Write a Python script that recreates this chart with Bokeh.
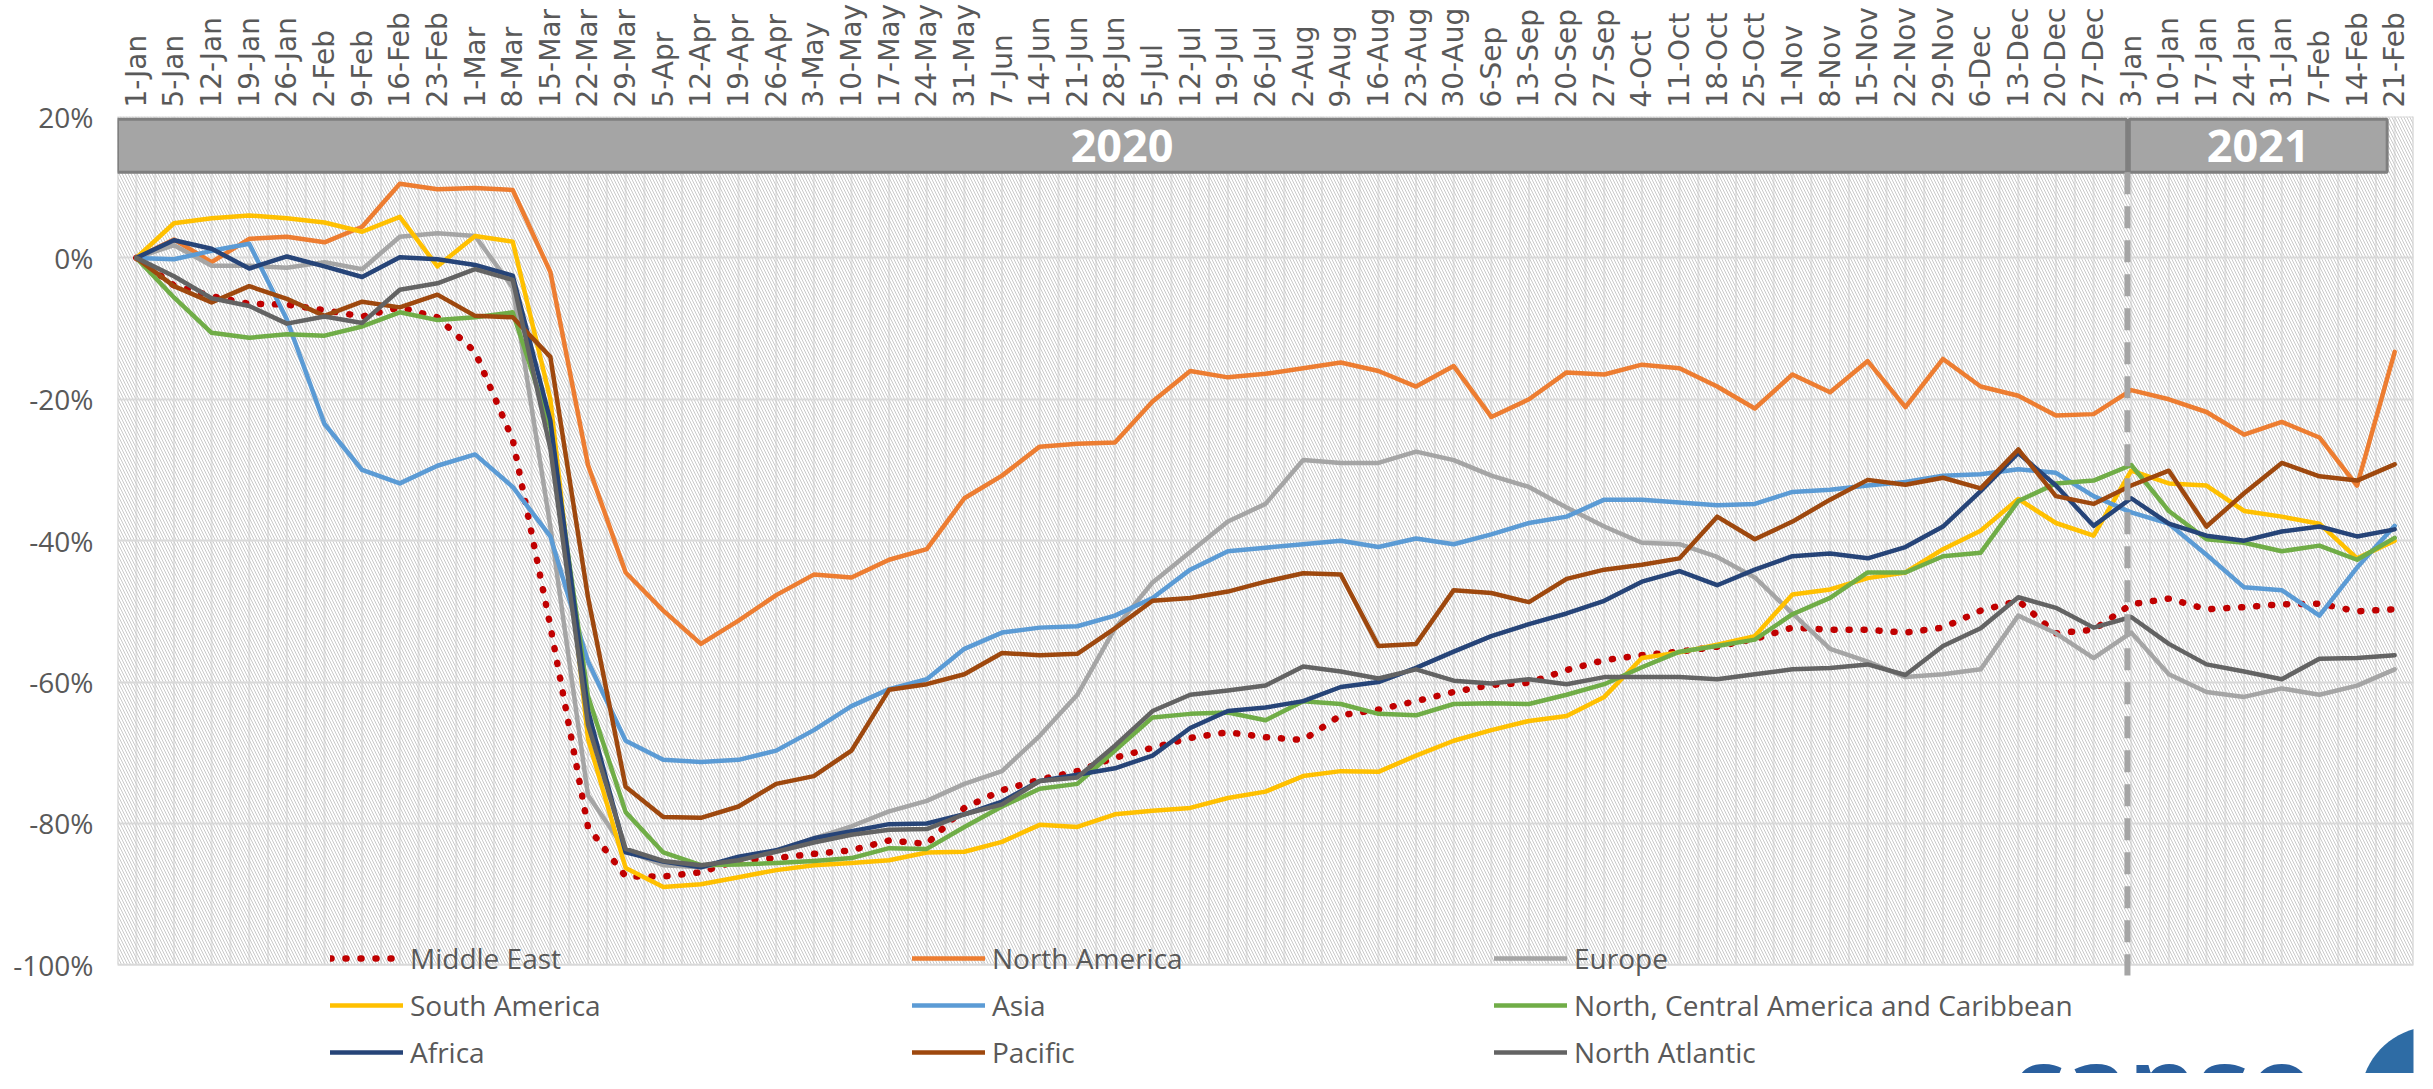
import numpy as np
from bokeh.plotting import figure
from bokeh.models import Range1d, FixedTicker, Legend, LegendItem, Label, Arrow, PolyAnnotation
from bokeh.core.properties import value
from bokeh.embed import file_html
from bokeh.resources import INLINE

# ---------------- data ----------------
dates = ["1-Jan", "5-Jan", "12-Jan", "19-Jan", "26-Jan", "2-Feb", "9-Feb", "16-Feb", "23-Feb",
         "1-Mar", "8-Mar", "15-Mar", "22-Mar", "29-Mar", "5-Apr", "12-Apr", "19-Apr", "26-Apr",
         "3-May", "10-May", "17-May", "24-May", "31-May", "7-Jun", "14-Jun", "21-Jun", "28-Jun",
         "5-Jul", "12-Jul", "19-Jul", "26-Jul", "2-Aug", "9-Aug", "16-Aug", "23-Aug", "30-Aug",
         "6-Sep", "13-Sep", "20-Sep", "27-Sep", "4-Oct", "11-Oct", "18-Oct", "25-Oct", "1-Nov",
         "8-Nov", "15-Nov", "22-Nov", "29-Nov", "6-Dec", "13-Dec", "20-Dec", "27-Dec", "3-Jan",
         "10-Jan", "17-Jan", "24-Jan", "31-Jan", "7-Feb", "14-Feb", "21-Feb"]

middle_east = [0, -3.9, -5.4, -6.5, -6.6, -7.4, -8.3, -7.0, -8.4, -13.3, -25.7, -52.1, -80.5, -87.5,
               -87.5, -86.9, -85.2, -84.9, -84.3, -83.8, -82.4, -82.9, -77.8, -75.3, -73.8, -72.6,
               -70.7, -69.3, -67.9, -67.1, -67.8, -68.2, -64.7, -63.9, -62.7, -61.4, -60.4, -60.1,
               -58.3, -56.9, -56.2, -55.7, -55.0, -53.9, -52.3, -52.6, -52.6, -53.0, -52.3, -49.9,
               -48.5, -53.1, -52.6, -49.0, -48.2, -49.7, -49.4, -49.0, -48.9, -50.0, -49.7]
north_america = [0, 2.6, -0.6, 2.7, 3.0, 2.2, 4.4, 10.5, 9.7, 9.9, 9.6, -2.0, -29.3, -44.5, -49.9,
                 -54.6, -51.3, -47.7, -44.8, -45.2, -42.7, -41.2, -34.0, -30.8, -26.7, -26.3, -26.1,
                 -20.3, -16.0, -16.9, -16.4, -15.6, -14.8, -16.0, -18.2, -15.3, -22.5, -20.0, -16.2,
                 -16.5, -15.1, -15.6, -18.2, -21.3, -16.5, -19.0, -14.6, -21.1, -14.3, -18.2, -19.5,
                 -22.3, -22.1, -18.7, -20.0, -21.8, -25.0, -23.2, -25.4, -32.2, -13.3]
europe = [0, 1.8, -1.1, -1.1, -1.4, -0.6, -1.6, 3.0, 3.5, 3.1, -4.2, -38.0, -76.0, -83.8, -85.9,
          -86.2, -85.2, -83.8, -82.1, -80.4, -78.3, -76.8, -74.4, -72.6, -67.6, -61.8, -52.4, -45.9,
          -41.6, -37.3, -34.8, -28.6, -29.0, -29.0, -27.4, -28.6, -30.8, -32.4, -35.3, -38.0, -40.3,
          -40.5, -42.3, -45.2, -50.3, -55.3, -57.1, -59.3, -58.9, -58.2, -50.6, -53.1, -56.6, -53.0,
          -58.9, -61.4, -62.1, -60.9, -61.8, -60.5, -58.2]
south_america = [0, 4.9, 5.6, 6.0, 5.6, 5.0, 3.7, 5.8, -1.2, 3.1, 2.3, -20.0, -68.0, -86.3, -89.0,
                 -88.6, -87.6, -86.6, -85.9, -85.6, -85.2, -84.1, -84.0, -82.6, -80.2, -80.5, -78.7,
                 -78.2, -77.8, -76.4, -75.5, -73.3, -72.6, -72.7, -70.4, -68.3, -66.8, -65.5, -64.8,
                 -62.1, -56.6, -55.8, -54.7, -53.5, -47.6, -46.9, -45.3, -44.5, -41.2, -38.6, -34.1,
                 -37.5, -39.3, -30.1, -31.9, -32.2, -35.8, -36.6, -37.6, -42.5, -40.0]
asia = [0, -0.2, 1.0, 2.0, -8.7, -23.5, -30.0, -31.9, -29.4, -27.8, -32.4, -39.4, -57.1, -68.3,
        -71.0, -71.3, -71.0, -69.7, -66.8, -63.4, -61.0, -59.6, -55.3, -53.0, -52.3, -52.1, -50.6,
        -48.1, -44.1, -41.5, -41.0, -40.5, -40.0, -40.9, -39.7, -40.5, -39.1, -37.5, -36.6, -34.2,
        -34.2, -34.6, -35.0, -34.8, -33.1, -32.8, -32.2, -31.7, -30.8, -30.6, -29.9, -30.4, -33.7,
        -36.0, -37.6, -42.0, -46.6, -47.0, -50.6, -43.8, -37.9]
n_central_caribbean = [0, -5.6, -10.6, -11.3, -10.8, -11.0, -9.7, -7.7, -8.8, -8.4, -7.7, -24.0,
                       -62.0, -78.4, -84.1, -85.9, -85.8, -85.6, -85.3, -84.9, -83.5, -83.6, -80.5,
                       -77.6, -75.1, -74.4, -69.7, -65.0, -64.5, -64.3, -65.4, -62.7, -63.1, -64.5,
                       -64.7, -63.1, -63.0, -63.1, -61.8, -60.3, -57.9, -55.7, -54.9, -54.0, -50.4,
                       -48.1, -44.5, -44.5, -42.2, -41.7, -34.4, -31.9, -31.5, -29.3, -35.8, -39.8,
                       -40.3, -41.5, -40.7, -42.7, -39.6]
africa = [0, 2.5, 1.3, -1.5, 0.2, -1.2, -2.7, 0.1, -0.2, -1.0, -2.5, -23.0, -64.0, -84.1, -85.4,
          -86.2, -84.7, -83.8, -82.1, -81.1, -80.1, -80.0, -78.7, -76.9, -74.0, -73.1, -72.2, -70.4,
          -66.5, -64.1, -63.6, -62.7, -60.7, -60.0, -58.0, -55.7, -53.5, -51.8, -50.3, -48.5, -45.8,
          -44.3, -46.3, -44.1, -42.2, -41.8, -42.5, -40.9, -38.0, -33.0, -27.6, -32.2, -37.9, -34.0,
          -37.6, -39.3, -40.0, -38.7, -38.0, -39.4, -38.4]
pacific = [0, -4.0, -6.3, -4.0, -5.8, -8.2, -6.2, -7.0, -5.2, -8.2, -8.4, -14.0, -48.0, -74.8, -79.1,
           -79.2, -77.6, -74.4, -73.3, -69.7, -61.1, -60.3, -58.9, -55.9, -56.2, -56.0, -52.4, -48.5,
           -48.1, -47.2, -45.8, -44.6, -44.8, -54.9, -54.6, -47.0, -47.4, -48.7, -45.4, -44.1, -43.4,
           -42.5, -36.6, -39.8, -37.3, -34.2, -31.4, -32.1, -31.1, -32.6, -27.1, -33.7, -34.8, -32.2,
           -30.1, -38.0, -33.3, -29.0, -30.9, -31.5, -29.2]
north_atlantic = [0, -2.6, -5.7, -6.8, -9.3, -8.3, -9.2, -4.5, -3.6, -1.6, -3.1, -27.0, -66.0, -83.6,
                  -85.3, -85.9, -85.2, -84.0, -82.7, -81.6, -80.9, -80.8, -78.7, -77.3, -74.0, -73.5,
                  -69.0, -64.1, -61.8, -61.2, -60.5, -57.8, -58.5, -59.5, -58.2, -59.8, -60.2, -59.6,
                  -60.3, -59.3, -59.3, -59.3, -59.6, -58.9, -58.2, -58.0, -57.5, -59.0, -54.9, -52.4,
                  -48.0, -49.5, -52.3, -50.8, -54.6, -57.5, -58.5, -59.6, -56.7, -56.6, -56.2]

series_names = ["Middle East", "North America", "Europe",
                "South America", "Asia", "North, Central America and Caribbean",
                "Africa", "Pacific", "North Atlantic"]
series_values = [middle_east, north_america, europe,
                 south_america, asia, n_central_caribbean,
                 africa, pacific, north_atlantic]
series_colors = ["#C00000", "#ED7D31", "#A5A5A5",
                 "#FFC000", "#5B9BD5", "#70AD47",
                 "#264478", "#9E480E", "#636363"]

y_ticks = [-100, -80, -60, -40, -20, 0, 20]
y_min, y_max = -100, 20
x_min, x_max = -0.5, 60.5
year_labels = ["2020", "2021"]
year_starts = [-0.5, 52.95]     # category positions of year bands
year_ends = [52.88, 59.8]
divider_x = 52.9

# ---------------- figure ----------------
W, H = 2417, 1073
TOP = 113
px_per_unit = 851 / (y_max - y_min)           # plot area 851 px tall for -100..20
y_bottom = y_max - (H - TOP) / px_per_unit   # extend frame to bottom of canvas (legend/logo live there)

p = figure(width=W, height=H, output_backend="svg", toolbar_location=None,
           x_range=Range1d(x_min, x_max), y_range=Range1d(y_bottom, y_max),
           x_axis_location="above",
           min_border_left=117, min_border_right=4, min_border_top=TOP, min_border_bottom=0)
p.background_fill_color = "white"
p.border_fill_color = "white"
p.outline_line_color = None

# faint vertical stripes + hatched plot-area background
stripes = list(np.arange(x_min, x_max + 0.01, 0.5))
p.segment(x0=stripes, y0=y_min, x1=stripes, y1=y_max, line_color="#e6e6e6", line_width=2, level="underlay")
p.quad(left=[x_min], right=[x_max], bottom=[y_min], top=[y_max],
       fill_alpha=0, line_color=None, hatch_pattern="\\", hatch_color="#c9c9c9",
       hatch_scale=6, hatch_weight=1, level="underlay")

# grids
p.ygrid.ticker = FixedTicker(ticks=[-80, -60, -40, -20, 0])
p.ygrid.grid_line_color = "#d9d9d9"
p.ygrid.grid_line_width = 2
p.xgrid.visible = False

# plot-area border
p.quad(left=[x_min], right=[x_max], bottom=[y_min], top=[y_max],
       fill_alpha=0, line_color="#d9d9d9", line_width=2)

# y axis
p.yaxis.ticker = FixedTicker(ticks=y_ticks)
p.yaxis.major_label_overrides = {t: f"{t}%" for t in y_ticks}
p.yaxis.axis_line_color = None
p.yaxis.major_tick_line_color = None
p.yaxis.minor_tick_line_color = None
p.yaxis.major_tick_out = 0
p.yaxis.major_label_standoff = 24
p.yaxis.major_label_text_font = "Open Sans"
p.yaxis.major_label_text_font_size = "28px"
p.yaxis.major_label_text_color = "#595959"

# x axis (top)
p.xaxis.ticker = FixedTicker(ticks=list(range(len(dates))))
p.xaxis.major_label_overrides = {i: d for i, d in enumerate(dates)}
p.xaxis.major_label_orientation = "vertical"
p.xaxis.axis_line_color = None
p.xaxis.major_tick_line_color = None
p.xaxis.minor_tick_line_color = None
p.xaxis.major_tick_out = 0
p.xaxis.major_label_standoff = 9
p.xaxis.major_label_text_font = "DejaVu Sans"
p.xaxis.major_label_text_font_size = "28px"
p.xaxis.major_label_text_color = "#595959"

# year bands
p.quad(left=year_starts, right=year_ends, bottom=12.1, top=19.6,
       fill_color="#a5a5a5", line_color="#7f7f7f", line_width=3)
p.text(x=[(a + b) / 2 for a, b in zip(year_starts, year_ends)], y=[15.85, 15.85], text=year_labels,
       text_font=value("Open Sans"), text_font_style="bold", text_font_size="45px",
       text_color="white", text_align="center", text_baseline="middle")

# dashed year divider
p.add_layout(Arrow(end=None, x_start=divider_x, y_start=12.1, x_end=divider_x, y_end=-101.5,
                   line_color="#a5a5a5", line_width=6, line_dash="22 12"))

# series
x = list(range(len(dates)))
renderers = []
for name, vals, col in zip(series_names, series_values, series_colors):
    if name == "Middle East":
        r = p.line(x, vals, line_color=col, line_width=6.5, line_dash="1 14", line_cap="round")
    else:
        r = p.line(x, vals, line_color=col, line_width=4.5, line_join="round", line_cap="round")
    renderers.append(r)

# legend: three columns, each its own legend
col_pitch = 582
for c in range(3):
    items = [LegendItem(label=series_names[c + 3 * r], renderers=[renderers[c + 3 * r]]) for r in range(3)]
    lg = Legend(items=items, location=(213 + c * col_pitch, 2), orientation="vertical",
                glyph_width=73, glyph_height=30, label_height=30, label_standoff=7, spacing=9,
                padding=0, margin=0, border_line_color=None, background_fill_alpha=0,
                label_text_font="Open Sans", label_text_font_size="28px", label_text_color="#595959")
    p.add_layout(lg, "center")

# logo (partly below the bottom edge, as in the original)
p.add_layout(Label(x=49.8, y=-126.7, text="canso", text_font="Open Sans", text_font_style="bold",
                   text_font_size="105px", text_color="#2a5f9e"))
t = np.linspace(0, 2 * np.pi, 80)
p.add_layout(PolyAnnotation(xs=list(61.03 + 1.94 * np.cos(t)), ys=list(-119.0 + 10.29 * np.sin(t)),
                            fill_color="#2e6ca5", fill_alpha=1, line_color=None))

open("out.html", "w").write(file_html(p, INLINE))
